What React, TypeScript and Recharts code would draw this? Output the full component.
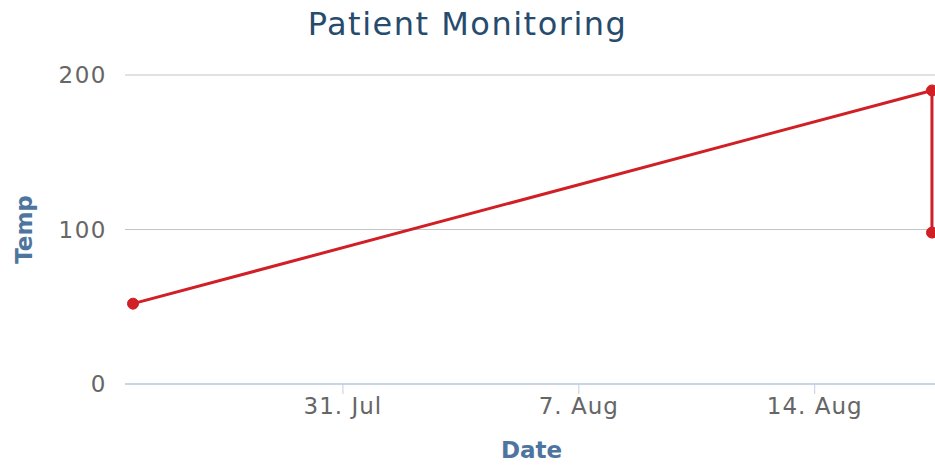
import React from 'react';
import { LineChart, Line, XAxis, YAxis, CartesianGrid } from 'recharts';

// readings (UTC) and temperatures
const readingTimes = ['2014-07-24T18:30:00Z', '2014-08-17T11:30:00Z', '2014-08-17T11:30:00Z'];
const temperatures = [52, 190, 98];

// axis ticks
const dateTicks = ['2014-07-31T00:00:00Z', '2014-08-07T00:00:00Z', '2014-08-14T00:00:00Z'];
const tempTicks = [0, 100, 200];
const monthNames = ['Jan', 'Feb', 'Mar', 'Apr', 'May', 'Jun', 'Jul', 'Aug', 'Sep', 'Oct', 'Nov', 'Dec'];

const HOUR = 3600 * 1000;

const FONT = '"DejaVu Sans", Verdana, sans-serif';

export default function App() {
  const chartData = readingTimes.map((t, i) => ({
    time: Date.parse(t),
    temp: temperatures[i],
  }));
  const ticks = dateTicks.map((t) => Date.parse(t));
  const first = chartData[0].time;
  const last = chartData[chartData.length - 1].time;

  const formatDate = (value: number) => {
    const d = new Date(value);
    return `${d.getUTCDate()}. ${monthNames[d.getUTCMonth()]}`;
  };

  return (
    <div
      style={{
        position: 'absolute',
        left: 0,
        top: 0,
        width: 935,
        height: 466,
        overflow: 'hidden',
        background: '#fff',
        fontFamily: FONT,
      }}
    >
      <div
        style={{
          position: 'absolute',
          left: 0,
          top: 9,
          width: 935,
          textAlign: 'center',
          fontSize: 32,
          lineHeight: '30px',
          letterSpacing: 1.5,
          color: '#274b6d',
        }}
      >
        Patient Monitoring
      </div>
      <LineChart
        width={940}
        height={466}
        data={chartData}
        margin={{ top: 75, right: 2, bottom: 0, left: 0 }}
      >
        <CartesianGrid horizontal vertical={false} stroke="#c4c4c4" strokeWidth={1} />
        <XAxis
          dataKey="time"
          type="number"
          scale="linear"
          domain={[first - 5.7 * HOUR, last + 4.3 * HOUR]}
          ticks={ticks}
          tickFormatter={formatDate}
          allowDataOverflow
          height={82}
          tickSize={10}
          tickMargin={4}
          axisLine={{ stroke: '#c0d0e0', strokeWidth: 1.5 }}
          tickLine={{ stroke: '#c0d0e0' }}
          tick={{ fill: '#666', fontSize: 23, letterSpacing: 1, fontFamily: FONT }}
          label={{
            value: 'Date',
            position: 'insideBottom',
            offset: 8,
            style: { fill: '#4d759e', fontSize: 23, fontWeight: 'bold', fontFamily: FONT },
          }}
        />
        <YAxis
          dataKey="temp"
          type="number"
          domain={[0, 200]}
          ticks={tempTicks}
          width={125}
          axisLine={false}
          tickLine={false}
          tickSize={0}
          tickMargin={18}
          tick={{ fill: '#666', fontSize: 23, letterSpacing: 1.5, fontFamily: FONT }}
          label={{
            value: 'Temp',
            angle: -90,
            position: 'insideLeft',
            offset: 24,
            style: { textAnchor: 'middle', fill: '#4d759e', fontSize: 23, fontWeight: 'bold', fontFamily: FONT },
          }}
        />
        <Line
          type="linear"
          dataKey="temp"
          stroke="#d11f26"
          strokeWidth={3}
          dot={{ r: 5.5, fill: '#d11f26', stroke: '#d11f26', strokeWidth: 1 }}
          activeDot={false}
          isAnimationActive={false}
        />
      </LineChart>
    </div>
  );
}
